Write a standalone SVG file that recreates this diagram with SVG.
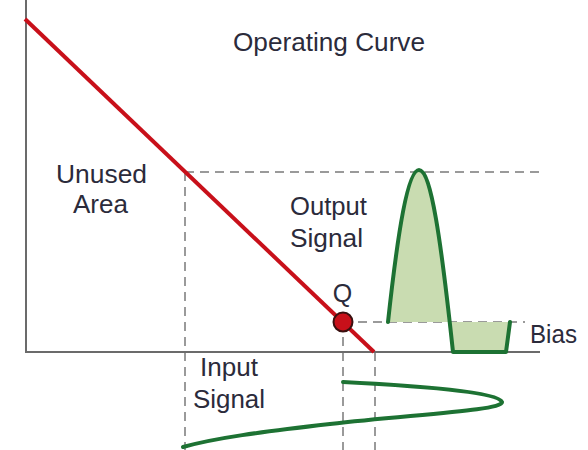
<svg xmlns="http://www.w3.org/2000/svg" width="588" height="450" viewBox="0 0 588 450">
<style>
.t{font-family:"Liberation Sans",Arial,sans-serif;font-size:25px;fill:#2b2b3b}
.ax{stroke:#6b6b6b;stroke-width:2;fill:none}
.d{stroke:#9a9a9a;stroke-width:2;stroke-dasharray:9,6;fill:none}
.g{stroke:#1d7233;stroke-width:4;fill:none;stroke-linejoin:round;stroke-linecap:round}
</style>
<rect width="588" height="450" fill="#fff"/>
<g id="connectors">
<line class="d" x1="185" y1="172" x2="541" y2="172"/>
<line class="d" x1="185" y1="172" x2="185" y2="450"/>
<line class="d" x1="343" y1="322" x2="525" y2="322"/>
<line class="d" x1="343" y1="322" x2="343" y2="450"/>
<line class="d" x1="375" y1="352" x2="375" y2="450"/>
<line class="ax" x1="26" y1="0" x2="26" y2="353"/>
<line class="ax" x1="25" y1="352" x2="540" y2="352"/>
<line id="operating-curve" x1="25" y1="19" x2="374" y2="352" stroke="#c8101a" stroke-width="4"/>
</g>
<g id="output-signal">
<path d="M388,322 C398,230 408,170 419,170 C431,170 440,230 448,322 Z" fill="#c9dcb1"/>
<path d="M448,322 L453,352 L506,352 L510,322 Z" fill="#c9dcb1"/>
<path class="g" d="M388,322 C398,230 408,170 419,170 C431,170 441,240 453,352 L506,352 L510,322"/>
</g>
<g id="input-signal">
<path class="g" d="M343,382 C420,386 498,392 502,402 C504,410 420,414 330,424 C260,432 215,438 183,447"/>
</g>
<g id="q-point">
<circle cx="343" cy="322" r="9.5" fill="#c8101a" stroke="#3a1010" stroke-width="2"/>
<text class="t" x="342.5" y="302" text-anchor="middle">Q</text>
</g>
<g id="labels">
<text class="t" x="233" y="51" textLength="192" lengthAdjust="spacingAndGlyphs">Operating Curve</text>
<text class="t" x="56" y="183" textLength="91" lengthAdjust="spacingAndGlyphs">Unused</text>
<text class="t" x="73" y="213" textLength="55" lengthAdjust="spacingAndGlyphs">Area</text>
<text class="t" x="290" y="215" textLength="77" lengthAdjust="spacingAndGlyphs">Output</text>
<text class="t" x="290" y="247" textLength="73" lengthAdjust="spacingAndGlyphs">Signal</text>
<text class="t" x="530" y="343" textLength="47" lengthAdjust="spacingAndGlyphs">Bias</text>
<text class="t" x="200" y="376" textLength="58" lengthAdjust="spacingAndGlyphs">Input</text>
<text class="t" x="193" y="408" textLength="72" lengthAdjust="spacingAndGlyphs">Signal</text>
</g>
</svg>
